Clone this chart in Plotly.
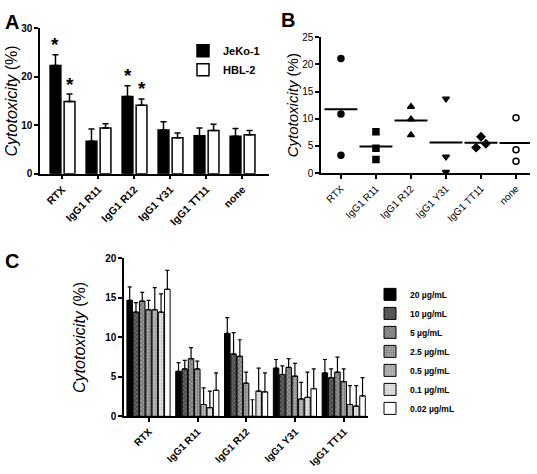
import numpy as np
import plotly.graph_objects as go

# ---------------- data ----------------
cats_A = ["RTX", "IgG1 R11", "IgG1 R12", "IgG1 Y31", "IgG1 TT11", "none"]
jeko_mean = [22.3, 6.7, 15.9, 9.0, 7.8, 7.7]
jeko_err = [2.2, 2.5, 2.2, 1.7, 1.6, 1.6]
hbl_mean = [14.9, 9.4, 14.1, 7.4, 8.9, 8.0]
hbl_err = [1.5, 0.9, 1.3, 1.0, 1.3, 0.9]
# significance markers: (category, series)
signif = [("RTX", "JeKo-1"), ("RTX", "HBL-2"), ("IgG1 R12", "JeKo-1"), ("IgG1 R12", "HBL-2")]

cats_B = ["RTX", "IgG1 R11", "IgG1 R12", "IgG1 Y31", "IgG1 TT11", "none"]
rtx_pts = [21.1, 10.9, 3.3]
r11_pts = [7.6, 4.6, 2.5]
r12_pts = [12.2, 9.9, 7.0]
y31_pts = [13.7, 3.0, 0.2]
tt11_pts = [4.7, 6.7, 5.4]
none_pts = [10.2, 4.3, 2.2]

cats_C = ["RTX", "IgG1 R11", "IgG1 R12", "IgG1 Y31", "IgG1 TT11"]
conc_labels = ["20 µg/mL", "10 µg/mL", "5 µg/mL", "2.5 µg/mL", "0.5 µg/mL", "0.1 µg/mL", "0.02 µg/mL"]
c20 = [14.7, 5.7, 10.5, 6.1, 5.5]
c10 = [13.2, 6.0, 7.9, 5.3, 4.9]
c5 = [14.6, 7.3, 7.6, 6.2, 5.6]
c2_5 = [13.5, 6.0, 4.2, 5.1, 4.4]
c0_5 = [13.5, 1.5, 0.0, 2.2, 1.5]
c0_1 = [13.2, 1.1, 3.2, 2.4, 1.3]
c0_02 = [16.1, 3.3, 3.1, 3.5, 2.6]
e20 = [1.7, 1.1, 2.0, 1.1, 1.7]
e10 = [1.2, 1.1, 2.7, 1.1, 1.1]
e5 = [1.1, 1.4, 2.1, 1.1, 1.9]
e2_5 = [1.2, 1.0, 1.4, 1.6, 1.6]
e0_5 = [2.8, 2.1, 2.1, 2.1, 2.4]
e0_1 = [2.3, 2.1, 2.9, 3.2, 2.6]
e0_02 = [2.4, 2.2, 2.4, 2.5, 2.3]

# ---------------- styling ----------------
FONT = "Liberation Sans, Arial, Helvetica, sans-serif"
W, H = 537, 474
fig = go.Figure()

# ---- Panel A ----
A_width = 0.30
A_offsets = {"JeKo-1": -0.34, "HBL-2": 0.05}
for name, means, errs, fill in [("JeKo-1", jeko_mean, jeko_err, "black"),
                                ("HBL-2", hbl_mean, hbl_err, "white")]:
    fig.add_trace(go.Bar(
        x=cats_A, y=means, name=name, xaxis="x", yaxis="y",
        width=A_width, offset=A_offsets[name],
        marker=dict(color=fill, line=dict(color="black", width=1.5)),
        error_y=dict(type="data", array=errs, arrayminus=[0] * len(errs), symmetric=False,
                     color="black", thickness=1.5, width=3),
        legend="legend",
    ))

for cat, series in signif:
    i = cats_A.index(cat)
    if series == "JeKo-1":
        top = jeko_mean[i] + jeko_err[i]
    else:
        top = hbl_mean[i] + hbl_err[i]
    fig.add_annotation(x=i + A_offsets[series] + A_width / 2, y=top, xref="x", yref="y",
                       text="*", showarrow=False, yanchor="middle", yshift=10,
                       font=dict(family=FONT, size=19, color="black", weight="bold"))

# ---- Panel B ----
B_sets = [rtx_pts, r11_pts, r12_pts, y31_pts, tt11_pts, none_pts]
B_symbols = ["circle", "square", "triangle-up", "triangle-down", "diamond", "circle-open"]
B_dodge = [[0, 0, 0], [0, 0, 0], [0, 0, 0], [0, 0, 0], [-0.4, 0, 0.4], [0, 0, 0]]
for i, (pts, sym) in enumerate(zip(B_sets, B_symbols)):
    xs = [i + 0.35 * d for d in B_dodge[i]]
    fig.add_trace(go.Scatter(
        x=xs, y=pts, mode="markers", xaxis="x2", yaxis="y2", showlegend=False,
        marker=dict(symbol=sym, size=6, color="black",
                    line=dict(color="black", width=1.5)),
        cliponaxis=False,
    ))
    m = float(np.mean(pts))
    fig.add_trace(go.Scatter(
        x=[i - 0.47, i + 0.47], y=[m, m], mode="lines", xaxis="x2", yaxis="y2",
        showlegend=False, line=dict(color="black", width=2),
    ))

# ---- Panel C ----
C_vals = [c20, c10, c5, c2_5, c0_5, c0_1, c0_02]
C_errs = [e20, e10, e5, e2_5, e0_5, e0_1, e0_02]
C_styles = [
    dict(color="black"),
    dict(color="#444", pattern=dict(shape="x", fgcolor="#000", bgcolor="#666", size=3, solidity=0.4)),
    dict(color="#777", pattern=dict(shape="x", fgcolor="#222", bgcolor="#999", size=3, solidity=0.4)),
    dict(color="#999", pattern=dict(shape=".", fgcolor="#333", bgcolor="#aaa", size=3, solidity=0.4)),
    dict(color="#bbb", pattern=dict(shape=".", fgcolor="#666", bgcolor="#bbb", size=3, solidity=0.4)),
    dict(color="#ddd", pattern=dict(shape=".", fgcolor="#999", bgcolor="#e6e6e6", size=3, solidity=0.4)),
    dict(color="white"),
]
C_slot = 0.9 / 7
for k, (vals, errs, lab, sty) in enumerate(zip(C_vals, C_errs, conc_labels, C_styles)):
    mk = dict(sty)
    mk["line"] = dict(color="black", width=1)
    fig.add_trace(go.Bar(
        x=cats_C, y=vals, name=lab, xaxis="x3", yaxis="y3",
        width=C_slot * 0.88, offset=-0.45 + k * C_slot,
        marker=mk,
        error_y=dict(type="data", array=errs, arrayminus=[0] * len(errs), symmetric=False,
                     color="black", thickness=1.2, width=2),
        legend="legend2",
    ))

axis_common = dict(showline=True, linecolor="black", linewidth=1.5, ticks="outside",
                   ticklen=4, tickwidth=1.5, tickcolor="black", showgrid=False,
                   zeroline=False, mirror=False)
boldtick = dict(family=FONT, size=10, color="black", weight="bold")
regtick = dict(family=FONT, size=10, color="black")
title_font = dict(family=FONT, size=16, color="black")

fig.update_layout(
    width=W, height=H, margin=dict(l=0, r=0, t=0, b=0),
    paper_bgcolor="white", plot_bgcolor="white",
    barmode="overlay", showlegend=True,
    font=dict(family=FONT, color="black"),
    xaxis=dict(domain=[40 / W, 269 / W], anchor="y", range=[-0.62, 5.74], type="category",
               tickangle=-45, tickfont=dict(family=FONT, size=10.5, color="black", weight="bold"),
               **axis_common),
    yaxis=dict(domain=[1 - 172 / H, 1 - 22.7 / H], anchor="x", range=[0, 30],
               tickvals=[0, 10, 20, 30], tickfont=boldtick,
               title=dict(text="<i>Cytotoxicity</i> (%)", font=title_font, standoff=0),
               **axis_common),
    xaxis2=dict(domain=[321 / W, 530 / W], anchor="y2", range=[-0.57, 5.4],
                tickvals=list(range(len(cats_B))), ticktext=cats_B, tickangle=-45,
                tickfont=dict(family=FONT, size=10, color="#000000"), **axis_common),
    yaxis2=dict(domain=[1 - 171.5 / H, 1 - 32 / H], anchor="x2", range=[0, 25],
                tickvals=[0, 5, 10, 15, 20, 25], tickfont=regtick,
                title=dict(text="<i>Cytotoxicity</i> (%)", font=dict(family=FONT, size=15, color="black"),
                           standoff=0),
                **axis_common),
    xaxis3=dict(domain=[124 / W, 368 / W], anchor="y3", range=[-0.51, 4.49], type="category",
                tickangle=-45, tickfont=dict(family=FONT, size=10, color="black", weight="bold"),
                **axis_common),
    yaxis3=dict(domain=[1 - 421 / H, 1 - 259 / H], anchor="x3", range=[0, 20],
                tickvals=[0, 5, 10, 15, 20], tickfont=boldtick,
                title=dict(text="<i>Cytotoxicity</i> (%)", font=title_font, standoff=16),
                **axis_common),
    legend=dict(x=183 / W, y=1 - 31 / H, xanchor="left", yanchor="top",
                font=dict(family=FONT, size=11, color="black", weight="bold"),
                bgcolor="rgba(0,0,0,0)", itemclick=False, tracegroupgap=0),
    legend2=dict(x=370 / W, y=1 - 281 / H, xanchor="left", yanchor="top",
                 font=dict(family=FONT, size=8.5, color="black", weight="bold"),
                 bgcolor="rgba(0,0,0,0)", itemclick=False, tracegroupgap=0),
)

for lab, xp, yp in [("A", 3, 3), ("B", 279, 1), ("C", 3, 248)]:
    fig.add_annotation(text=lab, x=xp / W, y=1 - yp / H, xref="paper", yref="paper",
                       xanchor="left", yanchor="top", showarrow=False,
                       font=dict(family=FONT, size=20, color="black", weight="bold"))

fig.write_html("out.html", config={"displayModeBar": False},
               post_script="document.body.style.margin='0px';document.body.style.overflow='hidden';")
